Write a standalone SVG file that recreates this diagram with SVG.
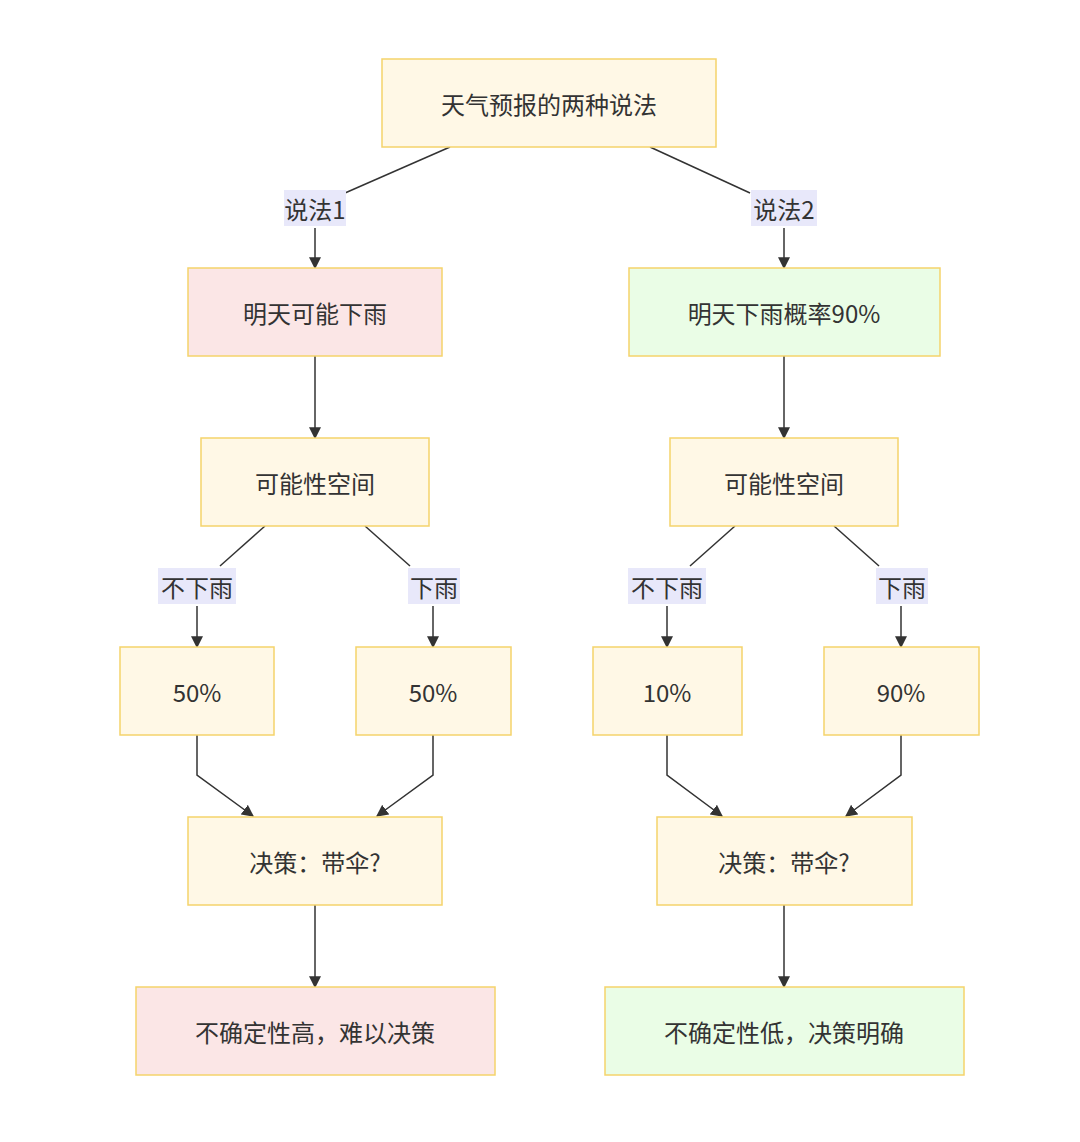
<svg xmlns="http://www.w3.org/2000/svg" width="1080" height="1142" viewBox="0 0 1080 1142">
<style>
.n{fill:#fff8e6;stroke:#f5d36b;stroke-width:1.5}
.p{fill:#fbe6e6}.g{fill:#eafde6}
text{font-family:"Noto Sans CJK SC","Noto Sans",sans-serif;font-size:24px;fill:#333;text-anchor:middle;dominant-baseline:central}
.lb{fill:#e8e8fa}
.e{fill:none;stroke:#333;stroke-width:1.5;marker-end:url(#a)}
.l{fill:none;stroke:#333;stroke-width:1.5}
</style>
<defs><marker id="a" viewBox="0 0 10 10" refX="9" refY="5" markerWidth="8" markerHeight="8" orient="auto"><path d="M0,0L10,5L0,10z" fill="#333"/></marker></defs>
<rect width="1080" height="1142" fill="#fff"/>
<g id="connectors">
<path class="l" d="M450,147L345,193"/><path class="e" d="M315,228V268"/>
<path class="l" d="M650,147L750,193"/><path class="e" d="M784,228V268"/>
<path class="e" d="M315,356V438"/><path class="e" d="M784,356V438"/>
<path class="l" d="M265,526L220,566"/><path class="e" d="M197,606V647"/>
<path class="l" d="M365,526L410,566"/><path class="e" d="M433,606V647"/>
<path class="l" d="M735,526L690,566"/><path class="e" d="M667,606V647"/>
<path class="l" d="M834,526L879,566"/><path class="e" d="M901,606V647"/>
<path class="e" d="M197,735V775L253,816"/><path class="e" d="M433,735V775L377,816"/>
<path class="e" d="M667,735V775L722,816"/><path class="e" d="M901,735V775L846,816"/>
<path class="e" d="M315,905V987"/><path class="e" d="M784,905V987"/>
<rect class="lb" x="284" y="190" width="62" height="36"/><text x="315" y="208">说法1</text>
<rect class="lb" x="751" y="190" width="66" height="36"/><text x="784" y="208">说法2</text>
<rect class="lb" x="158" y="568" width="78" height="36"/><text x="197" y="586">不下雨</text>
<rect class="lb" x="408" y="568" width="52" height="36"/><text x="434" y="586">下雨</text>
<rect class="lb" x="628" y="568" width="78" height="36"/><text x="667" y="586">不下雨</text>
<rect class="lb" x="876" y="568" width="52" height="36"/><text x="902" y="586">下雨</text>
</g>
<g id="top"><rect class="n" x="382" y="59" width="334" height="88"/><text x="549" y="103">天气预报的两种说法</text></g>
<g id="l1"><rect class="n p" x="188" y="268" width="254" height="88"/><text x="315" y="312">明天可能下雨</text></g>
<g id="r1"><rect class="n g" x="629" y="268" width="311" height="88"/><text x="784" y="312">明天下雨概率90%</text></g>
<g id="l2"><rect class="n" x="201" y="438" width="228" height="88"/><text x="315" y="482">可能性空间</text></g>
<g id="r2"><rect class="n" x="670" y="438" width="228" height="88"/><text x="784" y="482">可能性空间</text></g>
<g id="a1"><rect class="n" x="120" y="647" width="154" height="88"/><text x="197" y="691">50%</text></g>
<g id="a2"><rect class="n" x="356" y="647" width="155" height="88"/><text x="433" y="691">50%</text></g>
<g id="a3"><rect class="n" x="593" y="647" width="149" height="88"/><text x="667" y="691">10%</text></g>
<g id="a4"><rect class="n" x="824" y="647" width="155" height="88"/><text x="901" y="691">90%</text></g>
<g id="d1"><rect class="n" x="188" y="817" width="254" height="88"/><text x="315" y="861">决策：带伞?</text></g>
<g id="d2"><rect class="n" x="657" y="817" width="255" height="88"/><text x="784" y="861">决策：带伞?</text></g>
<g id="b1"><rect class="n p" x="136" y="987" width="359" height="88"/><text x="315" y="1031">不确定性高，难以决策</text></g>
<g id="b2"><rect class="n g" x="605" y="987" width="359" height="88"/><text x="784" y="1031">不确定性低，决策明确</text></g>
</svg>
